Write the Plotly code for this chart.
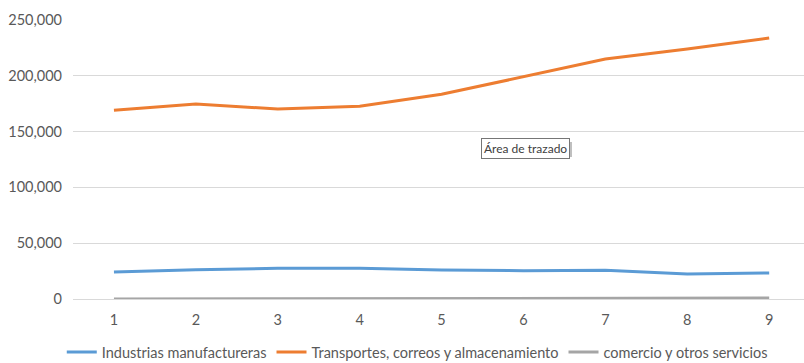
import plotly.graph_objects as go

categories = [1, 2, 3, 4, 5, 6, 7, 8, 9]
industrias = [24200, 26300, 27500, 27500, 26000, 25400, 25700, 22400, 23300]
transportes = [169100, 174700, 170200, 172700, 183400, 198900, 215000, 224000, 233900]
comercio = [100, 200, 500, 600, 600, 700, 700, 700, 800]
series_names = ["Industrias manufactureras", "Transportes, correos y almacenamiento", "comercio y otros servicios"]
colors = ["#5B9BD5", "#ED7D31", "#A5A5A5"]
y_ticks = [0, 50000, 100000, 150000, 200000, 250000]

FONT = "Lato"
fig = go.Figure()
for name, vals, col in zip(series_names, [industrias, transportes, comercio], colors):
    fig.add_trace(go.Scatter(x=categories, y=vals, name=name, mode="lines",
                             line=dict(color=col, width=3)))

# tooltip-like label
fig.add_shape(type="rect", xref="paper", yref="paper",
              x0=(484 - 73) / 731, x1=(572 - 73) / 731,
              y0=(299 - 157) / 279, y1=(299 - 142) / 279,
              fillcolor="#BFBFBF", line=dict(width=0), layer="above")
fig.add_annotation(x=(525.5 - 73) / 731, y=(299 - 148) / 279, xref="paper", yref="paper",
                   text="Área de trazado", showarrow=False,
                   font=dict(family=FONT, size=12, color="#404040"),
                   bgcolor="white", bordercolor="#767676", borderwidth=1, borderpad=2)

fig.update_layout(
    width=804, height=363,
    margin=dict(l=73, r=0, t=20, b=64),
    plot_bgcolor="white", paper_bgcolor="white",
    font=dict(family=FONT, size=14.5, color="#595959"),
    xaxis=dict(range=[0.5, 9.425], tickvals=categories, showgrid=False, zeroline=False,
               showline=False, ticks="", ticklabelstandoff=10,
               tickfont=dict(size=14.5, color="#595959")),
    yaxis=dict(range=[0, 250000], tickvals=y_ticks, tickformat=",", showgrid=True,
               gridcolor="#D9D9D9", gridwidth=1, zeroline=True, zerolinecolor="#D9D9D9",
               zerolinewidth=1, ticks="", ticklabelstandoff=10,
               tickfont=dict(size=14.5, color="#595959")),
    showlegend=True,
    legend=dict(orientation="h", xref="container", yref="container", x=0.519, y=0.03,
                xanchor="center", yanchor="middle", font=dict(size=14.5, color="#595959"),
                itemwidth=30),
)
fig.write_html("out.html")
